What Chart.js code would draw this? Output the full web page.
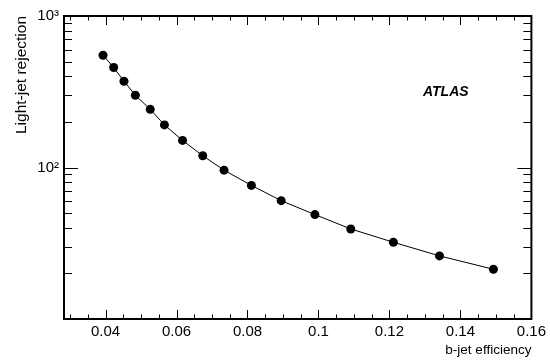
<!DOCTYPE html>
<html>
<head>
<meta charset="utf-8">
<script src="https://cdn.jsdelivr.net/npm/chart.js@4"></script>
<style>
  html, body { margin: 0; padding: 0; background: #fff; }
  #wrap { width: 550px; height: 361px; }
</style>
</head>
<body>
<div id="wrap"><canvas id="c"></canvas></div>
<script>
// b-jet efficiency vs light-jet rejection
const efficiency = [0.0393, 0.0423, 0.0452, 0.0484, 0.0526, 0.0566, 0.0617, 0.0674,
                    0.0734, 0.0811, 0.0895, 0.0990, 0.1091, 0.1211, 0.1341, 0.1493];
const rejection = [551, 457, 371, 300, 242, 191, 151, 119.5,
                   96, 76.2, 60.4, 48.9, 39.3, 32.1, 26.1, 21.3];

const xTicks = [0.04, 0.06, 0.08, 0.1, 0.12, 0.14, 0.16];
const yTicks = [100, 1000];
const yTickLabels = { 100: "10²", 1000: "10³" };
const xMinorStep = 0.005;

const FONT = "'Liberation Sans', Arial, Helvetica, sans-serif";

// inward ROOT-style ticks on all four sides
const frameTicks = {
  id: "frameTicks",
  afterDraw(chart) {
    const ctx = chart.ctx;
    const xs = chart.scales.x, ys = chart.scales.y;
    const a = chart.chartArea;
    ctx.save();
    ctx.strokeStyle = "#000";
    ctx.lineWidth = 1;
    ctx.beginPath();
    // x ticks
    for (let i = 0; ; i++) {
      const v = 0.03 + i * xMinorStep;
      if (v > xs.max + 1e-9) break;
      const major = Math.abs(v / 0.02 - Math.round(v / 0.02)) < 1e-6;
      const len = major ? 9 : 4.5;
      const px = Math.round(xs.getPixelForValue(v)) + 0.5;
      ctx.moveTo(px, a.bottom); ctx.lineTo(px, a.bottom - len);
      ctx.moveTo(px, a.top); ctx.lineTo(px, a.top + len);
    }
    // y ticks (log)
    for (let d = 10; d <= 1000; d *= 10) {
      for (let k = 1; k <= 9; k++) {
        const v = d * k;
        if (v > 1000) break;
        const len = k === 1 ? 14 : 8;
        const py = Math.round(ys.getPixelForValue(v)) + 0.5;
        ctx.moveTo(a.left, py); ctx.lineTo(a.left + len, py);
        ctx.moveTo(a.right, py); ctx.lineTo(a.right - len, py);
      }
    }
    ctx.stroke();
    // frame
    ctx.lineWidth = 2;
    ctx.strokeRect(a.left, a.top, a.right - a.left, a.bottom - a.top);
    // ATLAS label
    ctx.fillStyle = "#000";
    ctx.font = "italic bold 14px " + FONT;
    ctx.textBaseline = "middle";
    ctx.fillText("ATLAS", 423, 92);
    ctx.restore();
  }
};

new Chart(document.getElementById("c"), {
  type: "scatter",
  data: {
    datasets: [{
      data: efficiency.map((x, i) => ({ x: x, y: rejection[i] })),
      showLine: true,
      borderColor: "#000",
      backgroundColor: "#000",
      borderWidth: 1,
      pointRadius: 4.5,
      pointBorderWidth: 0,
      pointHoverRadius: 4.5
    }]
  },
  options: {
    responsive: true,
    maintainAspectRatio: false,
    animation: false,
    layout: { padding: { top: 16, right: 16, left: 0, bottom: 0 } },
    plugins: { legend: { display: false }, tooltip: { enabled: false } },
    scales: {
      x: {
        type: "linear",
        min: 0.0283,
        max: 0.16,
        grid: { display: false, drawTicks: false },
        border: { display: false },
        afterBuildTicks: s => { s.ticks = xTicks.map(v => ({ value: v })); },
        afterFit: s => { s.height = 42; },
        ticks: {
          color: "#000",
          padding: 4,
          maxRotation: 0,
          font: { family: FONT, size: 15 },
          callback: v => String(+v.toFixed(2))
        },
        title: {
          display: true,
          text: "b-jet efficiency",
          align: "end",
          color: "#000",
          padding: { top: 0, bottom: 3 },
          font: { family: FONT, size: 13.5 }
        }
      },
      y: {
        type: "logarithmic",
        min: 10,
        max: 1000,
        grid: { display: false, drawTicks: false },
        border: { display: false },
        afterBuildTicks: s => { s.ticks = yTicks.map(v => ({ value: v })); },
        afterFit: s => { s.width = 64; },
        ticks: {
          color: "#000",
          padding: 5,
          font: { family: FONT, size: 15 },
          callback: v => yTickLabels[v] || ""
        },
        title: {
          display: true,
          text: "Light-jet rejection",
          align: "end",
          color: "#000",
          padding: { top: 12, bottom: 0 },
          font: { family: FONT, size: 15.5 }
        }
      }
    }
  },
  plugins: [frameTicks]
});
</script>
</body>
</html>
